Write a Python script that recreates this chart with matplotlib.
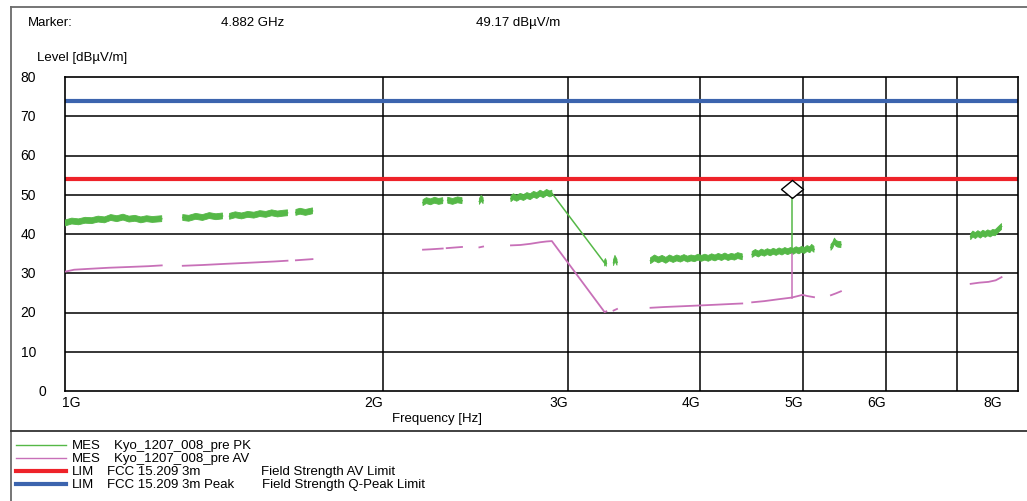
import numpy as np
import matplotlib
matplotlib.use("Agg")
import matplotlib.pyplot as plt
from matplotlib.lines import Line2D
from matplotlib.transforms import blended_transform_factory

plt.rcParams['font.family'] = ['Liberation Sans', 'DejaVu Sans']

W, H = 1027, 502
nan = np.nan

# ---------------- data (GHz, dBuV/m) ----------------
pk_freq_ghz = [
    1.000, 1.015, 1.030, 1.045, 1.060, 1.075, 1.090, 1.105, 1.120, 1.135, 1.150, 1.165, 1.180, 1.195, 1.210, 1.235, nan,
    1.293, 1.310, 1.330, 1.350, 1.370, 1.390, 1.410, nan,
    1.432, 1.450, 1.470, 1.490, 1.510, 1.530, 1.550, 1.570, 1.590, 1.610, 1.625, nan,
    1.655, 1.670, 1.690, 1.716, nan,
    2.184, 2.200, 2.220, 2.240, 2.260, 2.280, nan,
    2.305, 2.330, 2.355, 2.378, nan,
    2.470, 2.480, 2.490, nan,
    2.646, 2.660, 2.680, 2.700, 2.720, 2.740, 2.760, 2.780, 2.800, 2.820, 2.840, 2.860, 2.880, 2.893,
    3.246, 3.252, 3.258, nan,
    3.310, 3.320, 3.335, nan,
    3.588, 3.620, 3.650, 3.680, 3.710, 3.740, 3.770, 3.800, 3.830, 3.860, 3.890, 3.920, 3.950, 3.980,
    4.010, 4.040, 4.070, 4.100, 4.130, 4.160, 4.190, 4.220, 4.250, 4.280, 4.310, 4.340, 4.383, nan,
    4.479, 4.510, 4.540, 4.570, 4.600, 4.630, 4.660, 4.690, 4.720, 4.750, 4.780, 4.810, 4.840, 4.870,
    4.900, 4.930, 4.960, 4.990, 5.020, 5.050, 5.080, 5.100, 5.126, nan,
    5.319, 5.340, 5.360, 5.380, 5.400, 5.436, nan,
    7.215, 7.250, 7.290, 7.330, 7.370, 7.410, 7.450, 7.490, 7.530, 7.570, 7.610, 7.650, 7.690, 7.718,
]
pk_level = [
    42.8, 43.3, 43.1, 43.5, 43.4, 43.8, 43.6, 44.2, 43.9, 44.3, 43.8, 44.0, 43.6, 43.9, 43.7, 43.9, nan,
    44.2, 44.0, 44.5, 44.2, 44.7, 44.4, 44.6, nan,
    44.5, 44.9, 44.6, 45.0, 44.8, 45.2, 45.0, 45.4, 45.1, 45.3, 45.4, nan,
    45.5, 45.8, 45.5, 45.9, nan,
    48.0, 48.5, 48.2, 48.6, 48.3, 48.5, nan,
    48.6, 48.3, 48.7, 48.5, nan,
    48.3, 49.1, 48.5, nan,
    49.0, 49.5, 49.1, 49.6, 49.3, 49.8, 49.5, 50.1, 49.8, 50.4, 50.0, 50.6, 50.2, 50.4,
    32.6, 33.0, 32.5, nan,
    32.7, 33.8, 32.8, nan,
    33.2, 33.9, 33.4, 33.8, 33.3, 33.9, 33.5, 33.9, 33.6, 34.0, 33.6, 33.9, 33.7, 34.1,
    33.8, 34.1, 33.8, 34.2, 33.9, 34.3, 34.0, 34.4, 34.0, 34.3, 34.1, 34.5, 34.2, nan,
    34.8, 35.3, 34.9, 35.4, 35.1, 35.5, 35.2, 35.6, 35.3, 35.7, 35.4, 35.8, 35.5, 35.8,
    35.6, 36.0, 35.7, 36.1, 35.8, 36.3, 36.0, 36.6, 36.1, nan,
    36.6, 37.2, 38.2, 37.6, 37.4, 37.3, nan,
    39.3, 40.0, 39.6, 40.1, 39.7, 40.2, 39.9, 40.3, 40.0, 40.4, 40.3, 40.9, 41.5, 41.9,
]

av_freq_ghz = [
    1.000, 1.020, 1.050, 1.100, 1.150, 1.200, 1.235, nan,
    1.293, 1.350, 1.420, 1.500, 1.580, 1.625, nan,
    1.655, 1.716, nan,
    2.184, 2.220, 2.280, nan,
    2.300, 2.378, nan,
    2.470, 2.490, nan,
    2.646, 2.700, 2.760, 2.820, 2.860, 2.893, 3.246, 3.258, nan,
    3.310, 3.335, nan,
    3.588, 3.700, 3.850, 4.000, 4.150, 4.300, 4.383, nan,
    4.479, 4.600, 4.750, 4.882, 4.950, 5.000, 5.050, 5.126, nan,
    5.319, 5.380, 5.436, nan,
    7.215, 7.350, 7.500, 7.620, 7.718,
]
av_level = [
    30.4, 30.9, 31.1, 31.4, 31.6, 31.8, 32.0, nan,
    31.9, 32.1, 32.4, 32.7, 33.0, 33.2, nan,
    33.3, 33.6, nan,
    36.0, 36.1, 36.3, nan,
    36.4, 36.7, nan,
    36.6, 36.8, nan,
    37.1, 37.2, 37.5, 37.9, 38.1, 38.2, 20.1, 20.3, nan,
    20.5, 20.9, nan,
    21.2, 21.4, 21.6, 21.8, 22.0, 22.2, 22.3, nan,
    22.6, 22.9, 23.4, 23.8, 24.2, 24.5, 24.2, 23.9, nan,
    24.4, 24.9, 25.4, nan,
    27.3, 27.6, 27.8, 28.2, 29.0,
]

limit_av = 54.0
limit_peak = 74.0

marker_freq_ghz = 4.882
marker_level = 49.17
marker_pk_base = 35.6
marker_av_spike = 35.0
marker_av_base = 23.8

y_ticks = [0, 10, 20, 30, 40, 50, 60, 70, 80]
x_grid_ghz = [2, 3, 4, 5, 6, 7]
x_labels = ['1G', '2G', '3G', '4G', '5G', '6G', '8G']
x_label_pos_ghz = [1, 2, 3, 4, 5, 6, 7.72]

C_PK = '#55b847'
C_AV = '#c870b8'
C_RED = '#ee2229'
C_BLUE = '#3c64ae'

FS = 9.5
FS_TICK = 10
BAND_HALF = 0.75  # visual half-thickness of the noisy peak trace (dB)

# ---------------- figure ----------------
fig = plt.figure(figsize=(W / 100, H / 100), dpi=100)


def px(x, y):
    return x / W, 1 - y / H


L, R, T, B = 65, 1018, 78, 392
ax = fig.add_axes([L / W, 1 - B / H, (R - L) / W, (B - T) / H])
ax.set_xscale('log')
ax.set_xlim(1e9, 8e9)
ax.set_ylim(0, 80)
ax.set_xticks([])
ax.set_yticks([])
ax.minorticks_off()
for s in ax.spines.values():
    s.set_color('black')
    s.set_linewidth(1.2)

for g in x_grid_ghz:
    ax.axvline(g * 1e9, color='black', lw=1.1, zorder=1)
for v in y_ticks[1:-1]:
    ax.axhline(v, color='black', lw=1.1, zorder=1)

ax.axhline(limit_peak, color=C_BLUE, lw=3.0, zorder=2)
ax.axhline(limit_av, color=C_RED, lw=3.0, zorder=2)

pf = np.array(pk_freq_ghz) * 1e9
pv = np.array(pk_level)
# thin trace (includes sweep connectors)
ax.plot(pf, pv, color=C_PK, lw=1.1, zorder=3)
# noisy band: break where the sweep jumps across frequency
bf, bv = [], []
for i in range(len(pf)):
    if i > 0 and np.isfinite(pf[i]) and np.isfinite(pf[i - 1]) and pf[i] / pf[i - 1] > 1.05:
        bf.append(nan)
        bv.append(nan)
    bf.append(pf[i])
    bv.append(pv[i])
bf = np.array(bf)
bv = np.array(bv)
ax.fill_between(bf, bv - BAND_HALF, bv + BAND_HALF, color=C_PK, lw=0.6, edgecolor=C_PK, zorder=3)

# marker spike
ax.plot([marker_freq_ghz * 1e9] * 2, [marker_pk_base, marker_level], color=C_PK, lw=1.1, zorder=3)

af = np.array(av_freq_ghz) * 1e9
ax.plot(af, av_level, color=C_AV, lw=1.3, zorder=4)
ax.plot([marker_freq_ghz * 1e9] * 2, [marker_av_base, marker_av_spike], color=C_AV, lw=1.1, zorder=4)

diamond = [(0, 0), (1.22, 1), (0, 2), (-1.22, 1), (0, 0)]
ax.plot([marker_freq_ghz * 1e9], [marker_level], marker=diamond, ms=26,
        mfc='white', mec='black', mew=1.0, zorder=6, clip_on=False)

# tick labels
ytr = blended_transform_factory(fig.transFigure, ax.transData)
for v in y_ticks:
    x = 46 if v == 0 else 36
    fig.text(x / W, v, str(v), ha='right', va='center', fontsize=FS_TICK, transform=ytr)
xtr = blended_transform_factory(ax.transData, fig.transFigure)
for lab, pos in zip(x_labels, x_label_pos_ghz):
    ha = 'left' if pos == 1 else 'right'
    xpos = pos * 1e9 * (0.994 if pos == 1 else 1.0)
    ax.text(xpos, 1 - 403 / H, lab, ha=ha, va='center', fontsize=FS_TICK, transform=xtr)

fig.text(*px(437, 419), 'Frequency [Hz]', ha='center', va='center', fontsize=FS)

# header
fig.text(*px(28, 23), 'Marker:', ha='left', va='center', fontsize=FS)
fig.text(*px(221, 23), '4.882 GHz', ha='left', va='center', fontsize=FS)
fig.text(*px(476, 23), '49.17 dBµV/m', ha='left', va='center', fontsize=FS)
fig.text(*px(37, 58), 'Level [dBµV/m]', ha='left', va='center', fontsize=FS)

# outer frame
frame_c = '#6a6a6a'
fig.add_artist(Line2D([10.5 / W, 10.5 / W], [1 - 8 / H, 0], color=frame_c, lw=1.3, transform=fig.transFigure))
fig.add_artist(Line2D([10.5 / W, 1], [1 - 8 / H, 1 - 8 / H], color=frame_c, lw=1.3, transform=fig.transFigure))
fig.add_artist(Line2D([10.5 / W, 1], [1 - 432 / H, 1 - 432 / H], color='#333333', lw=1.3, transform=fig.transFigure))

# legend
rows = [
    (446, C_PK, 1.0, 'MES', 114, 'Kyo_1207_008_pre PK', None, None),
    (459, C_AV, 1.0, 'MES', 114, 'Kyo_1207_008_pre AV', None, None),
    (472, C_RED, 3.0, 'LIM', 107, 'FCC 15.209 3m', 261, 'Field Strength AV Limit'),
    (485, C_BLUE, 3.0, 'LIM', 107, 'FCC 15.209 3m Peak', 262, 'Field Strength Q-Peak Limit'),
]
for y, c, lw, kind, x2, name, x3, desc in rows:
    fig.add_artist(Line2D([16 / W, 66 / W], [1 - y / H] * 2, color=c, lw=lw, transform=fig.transFigure))
    fig.text(*px(72, y), kind, ha='left', va='center', fontsize=FS)
    fig.text(*px(x2, y), name, ha='left', va='center', fontsize=FS)
    if desc:
        fig.text(*px(x3, y), desc, ha='left', va='center', fontsize=FS)

fig.savefig('out.png', dpi=100)
